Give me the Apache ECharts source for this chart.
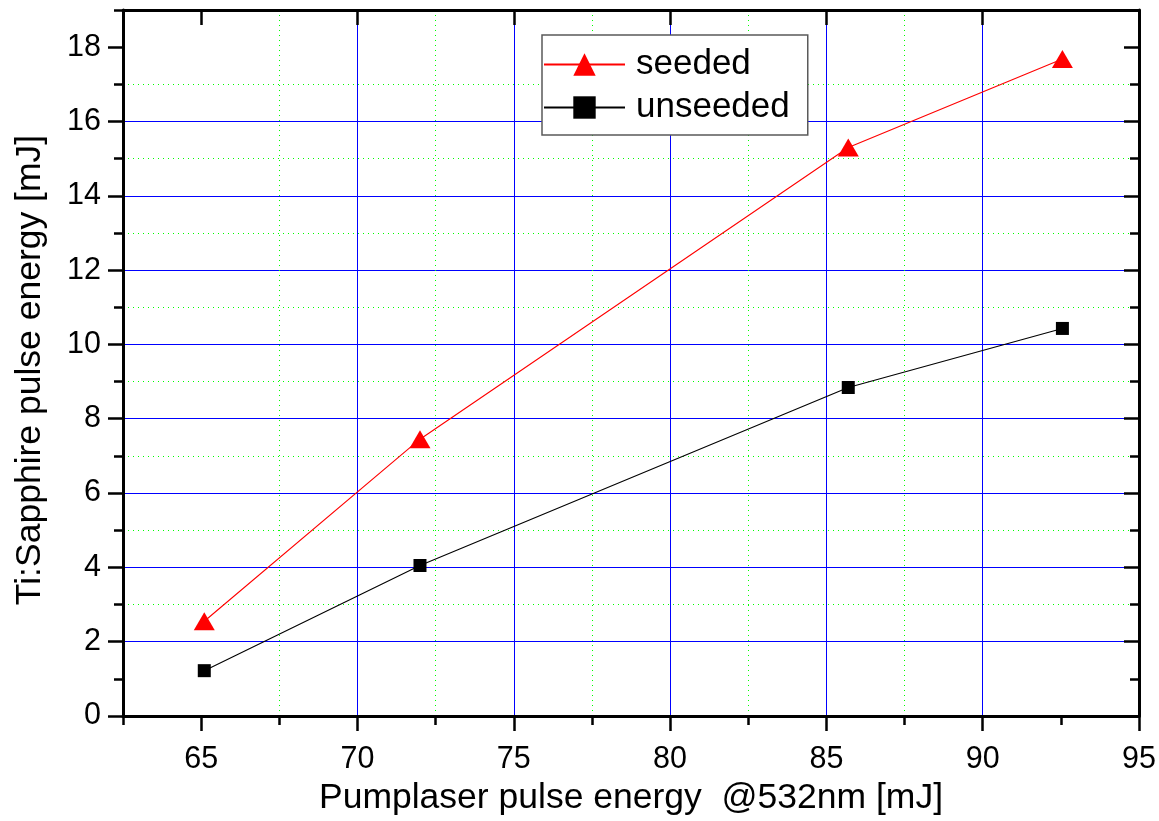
<!DOCTYPE html>
<html>
<head>
<meta charset="utf-8">
<title>Ti:Sapphire pulse energy vs. pump energy</title>
<script src="https://cdn.jsdelivr.net/npm/echarts@6/dist/echarts.min.js"></script>
<style>
  html, body { margin: 0; padding: 0; background: #ffffff; }
  #chart { width: 1159px; height: 821px; }
</style>
</head>
<body>
<div id="chart"></div>
<script>
// Pump laser pulse energy at 532 nm [mJ]
const pumpEnergy = [65.1, 72.0, 85.7, 92.55];
// Ti:Sapphire output pulse energy [mJ]
const seeded = [2.55, 7.45, 15.3, 17.68];
const unseeded = [1.22, 4.05, 8.84, 10.43];

// Tick positions
const xMajorTicks = [65, 70, 75, 80, 85, 90, 95];
const xMinorTicks = [62.5, 67.5, 72.5, 77.5, 82.5, 87.5, 92.5];
const yMajorTicks = [0, 2, 4, 6, 8, 10, 12, 14, 16, 18];
const yMinorTicks = [1, 3, 5, 7, 9, 11, 13, 15, 17, 19];

const seriesNames = ['seeded', 'unseeded'];
const xTitle = 'Pumplaser pulse energy  @532nm [mJ]';
const yTitle = 'Ti:Sapphire pulse energy [mJ]';

const FONT = '"Liberation Sans", Arial, sans-serif';
const X_RANGE = [62.5, 95];
const Y_RANGE = [0, 19];

function pairs(xs, ys) {
  return xs.map((x, i) => [x, ys[i]]);
}

function xAxisDef(opts) {
  return Object.assign({
    type: 'value',
    min: X_RANGE[0],
    max: X_RANGE[1],
    axisLine: { show: false },
    axisTick: { show: false },
    axisLabel: { show: false },
    splitLine: { show: false }
  }, opts);
}

function yAxisDef(opts) {
  return Object.assign({
    type: 'value',
    min: Y_RANGE[0],
    max: Y_RANGE[1],
    axisLine: { show: false },
    axisTick: { show: false },
    axisLabel: { show: false },
    splitLine: { show: false }
  }, opts);
}

const frameLine = { show: true, onZero: false, lineStyle: { color: '#000000', width: 3 } };
const tickStyle = { color: '#000000', width: 2.5 };
const majorGrid = { show: true, showMinLine: false, showMaxLine: false, lineStyle: { color: '#0000ff', width: 1 } };
const minorGrid = { show: true, showMinLine: false, showMaxLine: false, lineStyle: { color: '#00ff00', width: 1, type: [1, 4] } };

const chart = echarts.init(document.getElementById('chart'), null, { renderer: 'canvas' });

chart.setOption({
  backgroundColor: '#ffffff',
  animation: false,
  grid: { left: 123, top: 10, right: 20, bottom: 103, containLabel: false },
  xAxis: [
    // blue grid at major positions
    xAxisDef({ position: 'bottom', axisTick: { show: false, customValues: xMajorTicks }, splitLine: majorGrid, z: 1 }),
    // green dotted grid at minor positions
    xAxisDef({ position: 'bottom', axisTick: { show: false, customValues: xMinorTicks }, splitLine: minorGrid, z: 1 }),
    // bottom frame: major ticks, labels and title
    xAxisDef({
      position: 'bottom',
      name: xTitle,
      nameLocation: 'middle',
      nameGap: 64,
      nameTextStyle: { fontFamily: FONT, fontSize: 35.5, color: '#000000' },
      axisLine: frameLine,
      axisTick: { show: true, inside: false, length: 15, customValues: xMajorTicks, lineStyle: tickStyle },
      axisLabel: { show: true, customValues: xMajorTicks, margin: 28, fontFamily: FONT, fontSize: 30.5, color: '#000000' },
      z: 20
    }),
    // bottom frame: minor ticks
    xAxisDef({
      position: 'bottom',
      axisTick: { show: true, inside: false, length: 9, customValues: xMinorTicks, lineStyle: tickStyle },
      z: 20
    }),
    // top frame: inward major ticks
    xAxisDef({
      position: 'top',
      axisLine: frameLine,
      axisTick: { show: true, inside: true, length: 15, customValues: xMajorTicks, lineStyle: tickStyle },
      z: 20
    }),
    // top frame: inward minor ticks
    xAxisDef({
      position: 'top',
      axisTick: { show: true, inside: true, length: 9, customValues: xMinorTicks, lineStyle: tickStyle },
      z: 20
    })
  ],
  yAxis: [
    yAxisDef({ position: 'left', axisTick: { show: false, customValues: yMajorTicks }, splitLine: majorGrid, z: 1 }),
    yAxisDef({ position: 'left', axisTick: { show: false, customValues: yMinorTicks }, splitLine: minorGrid, z: 1 }),
    yAxisDef({
      position: 'left',
      name: yTitle,
      nameLocation: 'middle',
      nameGap: 75,
      nameTextStyle: { fontFamily: FONT, fontSize: 35.5, color: '#000000', padding: [0, 14, 0, 0] },
      axisLine: frameLine,
      axisTick: { show: true, inside: false, length: 15, customValues: yMajorTicks, lineStyle: tickStyle },
      axisLabel: { show: true, customValues: yMajorTicks, margin: 22, fontFamily: FONT, fontSize: 30.5, color: '#000000' },
      z: 20
    }),
    yAxisDef({
      position: 'left',
      axisTick: { show: true, inside: false, length: 9, customValues: yMinorTicks, lineStyle: tickStyle },
      z: 20
    }),
    yAxisDef({
      position: 'right',
      axisLine: frameLine,
      axisTick: { show: true, inside: true, length: 15, customValues: yMajorTicks, lineStyle: tickStyle },
      z: 20
    }),
    yAxisDef({
      position: 'right',
      axisTick: { show: true, inside: true, length: 9, customValues: yMinorTicks, lineStyle: tickStyle },
      z: 20
    })
  ],
  legend: {
    show: true,
    orient: 'vertical',
    left: 542,
    top: 35,
    padding: [10, 18, 8, 1],
    itemGap: 4,
    itemWidth: 81,
    itemHeight: 28,
    backgroundColor: '#ffffff',
    borderColor: '#5a5a5a',
    borderWidth: 1.5,
    textStyle: { fontFamily: FONT, fontSize: 35, color: '#000000', padding: [0, 0, 0, 6], lineHeight: 39 },
    data: seriesNames,
    z: 30
  },
  series: [
    {
      name: seriesNames[0],
      type: 'line',
      xAxisIndex: 2,
      yAxisIndex: 2,
      data: pairs(pumpEnergy, seeded),
      symbol: 'triangle',
      symbolSize: [21, 18],
      showAllSymbol: true,
      lineStyle: { color: '#ff0000', width: 1.1 },
      itemStyle: { color: '#ff0000' },
      z: 10
    },
    {
      name: seriesNames[1],
      type: 'line',
      xAxisIndex: 2,
      yAxisIndex: 2,
      data: pairs(pumpEnergy, unseeded),
      symbol: 'rect',
      symbolSize: 13,
      showAllSymbol: true,
      lineStyle: { color: '#000000', width: 1.1 },
      itemStyle: { color: '#000000' },
      z: 10
    }
  ]
});
</script>
</body>
</html>
